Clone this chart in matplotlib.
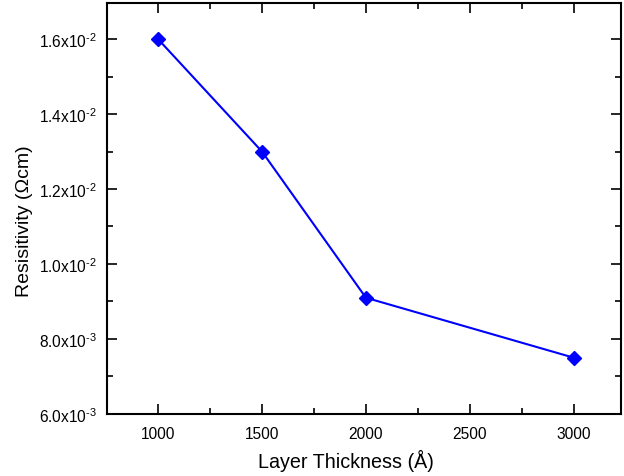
import matplotlib
matplotlib.use('Agg')
import matplotlib.pyplot as plt
from matplotlib.ticker import MultipleLocator, FuncFormatter

thickness = [1000, 1500, 2000, 3000]
resistivity = [0.016, 0.013, 0.0091, 0.0075]

plt.rcParams['font.family'] = ['Liberation Sans', 'DejaVu Sans']
plt.rcParams['mathtext.fontset'] = 'custom'
plt.rcParams['mathtext.rm'] = 'Liberation Sans'
plt.rcParams['mathtext.it'] = 'Liberation Sans'
plt.rcParams['mathtext.default'] = 'regular'

fig = plt.figure(figsize=(6.24, 4.77), dpi=100)
ax = fig.add_axes([0.1715, 0.130, 0.8235, 0.8616])

ax.plot(thickness, resistivity, color='#0000ff', lw=1.5, marker='D', markersize=7.5)

ax.set_xlim(755, 3226)
ax.set_ylim(0.006, 0.01696)

ax.xaxis.set_major_locator(MultipleLocator(500))
ax.xaxis.set_minor_locator(MultipleLocator(250))
ax.yaxis.set_major_locator(MultipleLocator(0.002))
ax.yaxis.set_minor_locator(MultipleLocator(0.001))


def sci_fmt(v, pos):
    exp = int(f'{v:.1e}'.split('e')[1])
    mant = v / 10 ** exp
    return f'{mant:.1f}x10$^{{\u2010{abs(exp)}}}$'


ax.yaxis.set_major_formatter(FuncFormatter(sci_fmt))

ax.tick_params(which='both', direction='in', top=True, right=True, width=1.2, labelsize=11.2)
ax.tick_params(which='major', length=7)
ax.tick_params(axis='x', which='major', pad=9)
ax.tick_params(axis='y', which='major', pad=7)
ax.tick_params(which='minor', length=4)
for s in ax.spines.values():
    s.set_linewidth(1.5)

ax.set_xlabel('Layer Thickness (Å)', fontsize=14.2)
ax.set_ylabel('Resisitivity (Ωcm)', fontsize=14)
ax.xaxis.set_label_coords(0.465, -0.085)
ax.yaxis.set_label_coords(-0.144, 0.471)

fig.savefig('out.png', dpi=100)
